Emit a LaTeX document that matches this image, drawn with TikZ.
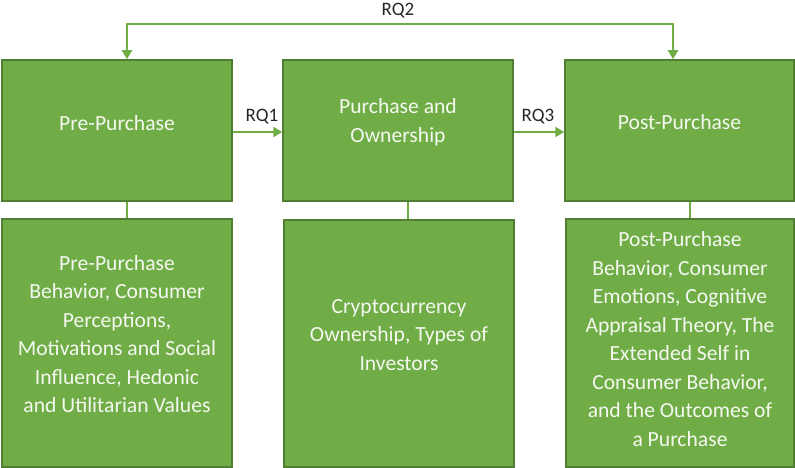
\documentclass[tikz,border=0pt]{standalone}
\usepackage{fontspec}
\setmainfont{Carlito}
\usetikzlibrary{arrows.meta}
\definecolor{boxfill}{HTML}{70AD47}
\definecolor{boxline}{HTML}{507E32}
\definecolor{boxtext}{HTML}{F4F8F0}
\definecolor{labeltext}{HTML}{262626}
\begin{document}
\begin{tikzpicture}[x=1pt,y=-1pt,
  stagebox/.style={draw=boxline,fill=boxfill,line width=1.5pt,inner sep=0pt},
  boxlabel/.style={text=boxtext,align=center,font=\fontsize{21.6}{28.5}\selectfont},
  rqlabel/.style={text=labeltext,font=\fontsize{19}{22}\selectfont},
  flow/.style={draw=boxfill,line width=2pt,-{Triangle[length=9pt,width=10pt]}},
  link/.style={draw=boxfill,line width=2pt}]
\useasboundingbox (0,0) rectangle (795,468);

% stage boxes
\node[stagebox,minimum width=230pt,minimum height=141pt] (b1) at (117,130.5) {};
\node[stagebox,minimum width=230pt,minimum height=141pt] (b2) at (398,130.5) {};
\node[stagebox,minimum width=229pt,minimum height=141pt] (b3) at (679.5,130.5) {};
% detail boxes
\node[stagebox,minimum width=230pt,minimum height=248pt] (b4) at (117,343) {};
\node[stagebox,minimum width=230pt,minimum height=247pt] (b5) at (399,343.5) {};
\node[stagebox,minimum width=228pt,minimum height=248pt] (b6) at (680,343) {};

% box texts
\node[boxlabel] (t1) at (117,123) {Pre-Purchase};
\node[boxlabel] (t2) at (398,122) {Purchase and\\Ownership};
\node[boxlabel] (t3) at (679.5,122) {Post-Purchase};
\node[boxlabel] (t4) at (117,334) {Pre-Purchase\\Behavior, Consumer\\Perceptions,\\Motivations and Social\\Influence, Hedonic\\and Utilitarian Values};
\node[boxlabel] (t5) at (399,335) {Cryptocurrency\\Ownership, Types of\\Investors};
\node[boxlabel] (t6) at (680,339) {Post-Purchase\\Behavior, Consumer\\Emotions, Cognitive\\Appraisal Theory, The\\Extended Self in\\Consumer Behavior,\\and the Outcomes of\\a Purchase};

% research questions
\draw[flow] ([yshift=-1.5pt]b1.east) -- ([yshift=-1.5pt]b2.west);
\draw[flow] ([yshift=-1.5pt]b2.east) -- ([yshift=-1.5pt]b3.west);
\coordinate (top) at (398,24);
\draw[flow,{Triangle[length=9pt,width=10pt]}-{Triangle[length=9pt,width=10pt]}]
  ([xshift=10pt]b1.north) |- (top) -| ([xshift=-6.5pt]b3.north);
\node[rqlabel] (rq1) at (262,117) {RQ1};
\node[rqlabel] (rq3) at (538,117) {RQ3};
\node[rqlabel] (rq2) at (398,11) {RQ2};

% stage-to-detail links
\draw[link] ([xshift=10pt]b1.south) -- ([xshift=10pt]b1.south |- b4.north);
\draw[link] ([xshift=10pt]b2.south) -- ([xshift=10pt]b2.south |- b5.north);
\draw[link] ([xshift=10.5pt]b3.south) -- ([xshift=10.5pt]b3.south |- b6.north);
\end{tikzpicture}
\end{document}
